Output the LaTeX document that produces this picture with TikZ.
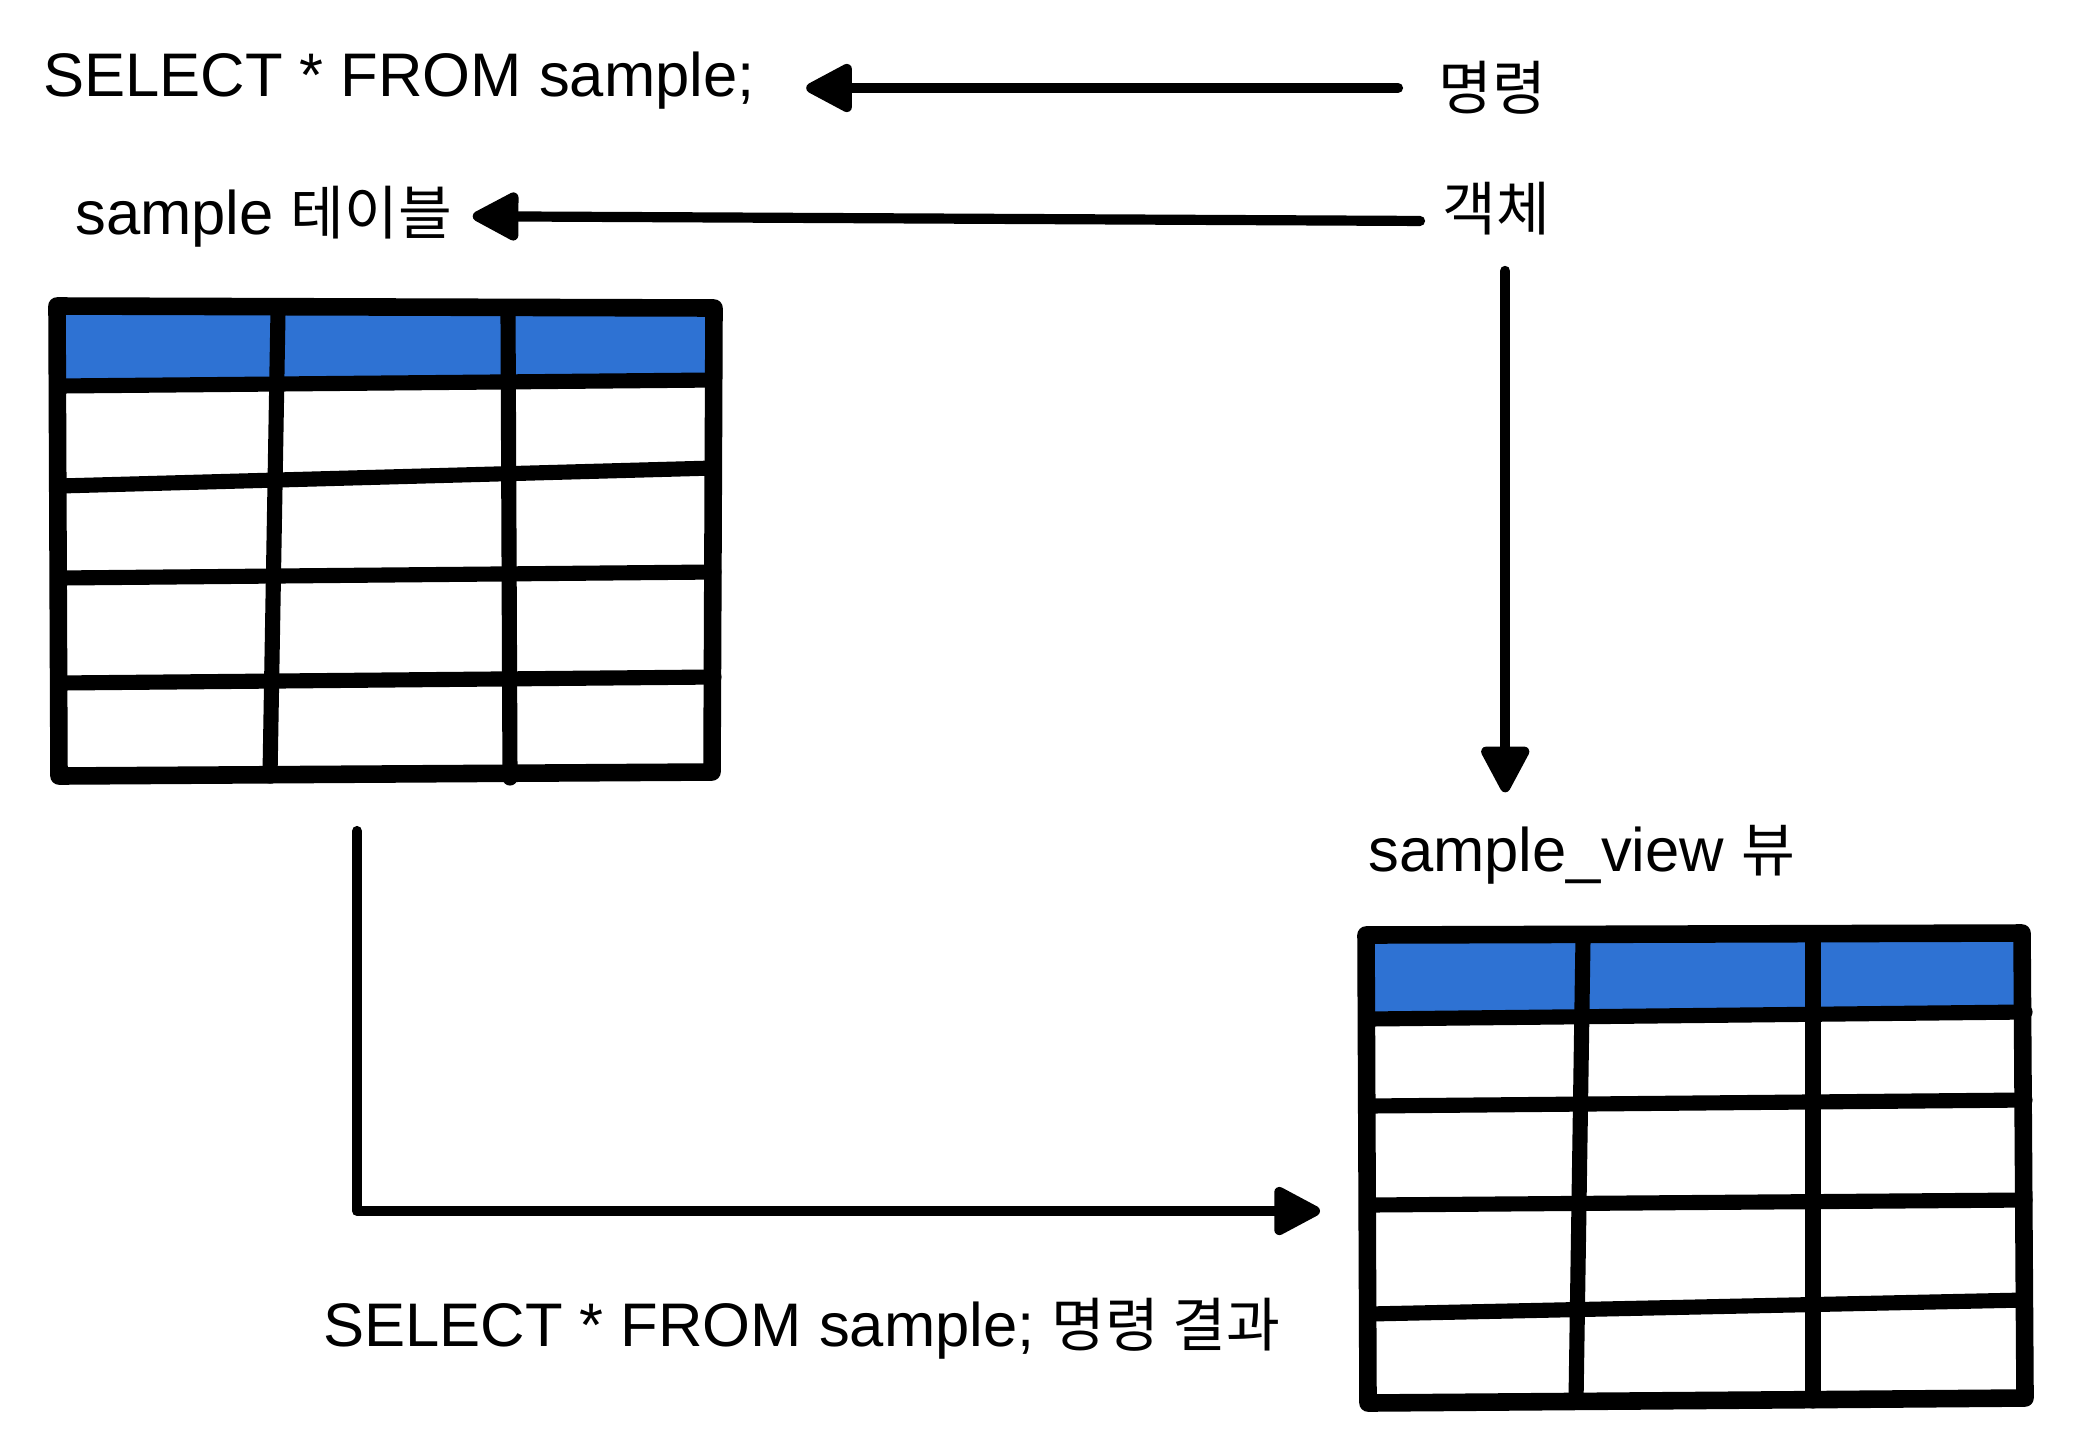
\documentclass[tikz,border=0pt]{standalone}
\usepackage{fontspec}
\setmainfont{Liberation Sans}
\newfontfamily\kr{Noto Sans CJK KR}[Scale=0.95]
\usetikzlibrary{positioning,arrows.meta}

\definecolor{hdrblue}{RGB}{46,114,211}
\tikzset{
  txt/.style={font=\fontsize{17.5pt}{21pt}\selectfont},
  arr/.style={->,line width=2.9pt},
  tblline/.style={line width=4.3pt},
  tblout/.style={line width=5pt},
}

\begin{document}
\begin{tikzpicture}[x=0.01cm,y=-0.01cm,>={Triangle[length=5.2mm,width=5.2mm,round]},line cap=round,line join=round]
  \useasboundingbox (0,0) rectangle (2086,1448);
  % labels
  \node[txt,anchor=base west] (cmd) at (31,96) {SELECT * FROM sample;};
  \node[txt,anchor=west] (cmdlbl) at (1426,88) {\kr 명령};
  \node[txt,anchor=base west] (tbl) at (63,234) {sample {\kr 테이블}};
  \node[txt,anchor=west] (objlbl) at (1430,209) {\kr 객체};
  \node[txt,anchor=base west] (view) at (1356,871) {sample\_view {\kr 뷰}};
  \node[txt,anchor=base west] (result) at (311,1346) {SELECT * FROM sample; {\kr 명령 결과}};

  % sample table
  \fill[hdrblue] (60,312) -- (712,310) -- (712,382) -- (60,386) -- cycle;
  \draw[tblline] (59,386) -- (714,380);
  \draw[tblline] (59,486) -- (714,468);
  \draw[tblline] (59,578) -- (714,572);
  \draw[tblline] (59,683) -- (714,677);
  \draw[tblline] (278,312) -- (270,776);
  \draw[tblline] (508,312) -- (510,778);
  \draw[tblout] (57,306) -- (714,308) -- (712,772) -- (59,776) -- cycle;
  \coordinate (tbl-out) at (357,831);

  % sample_view table
  \fill[hdrblue] (1369,938) -- (2020,936) -- (2022,1014) -- (1369,1018) -- cycle;
  \draw[tblline] (1368,1019) -- (2025,1012);
  \draw[tblline] (1368,1106) -- (2025,1100);
  \draw[tblline] (1368,1205) -- (2025,1200);
  \draw[tblline] (1368,1314) -- (2025,1300);
  \draw[tblline] (1583,938) -- (1576,1401);
  \draw[tblline] (1813,938) -- (1813,1401);
  \draw[tblout] (1366,935) -- (2022,933) -- (2025,1398) -- (1368,1403) -- cycle;
  \coordinate (view-in) at (1320,1211);

  % arrows
  \draw[arr,shorten <=2.8mm,shorten >=3.9mm] (cmdlbl.west) -- (cmd.east |- cmdlbl.west);
  \draw[arr,shorten <=1mm,shorten >=0.8mm] ([yshift=-1.2mm]objlbl.west) -- (tbl.east);
  \draw[arr,shorten <=2.3mm,shorten >=2mm] ([xshift=0.9mm]objlbl.south) -- ([xshift=0.9mm]objlbl.south |- view.north);
  \draw[arr] (tbl-out) |- (view-in);
\end{tikzpicture}
\end{document}
